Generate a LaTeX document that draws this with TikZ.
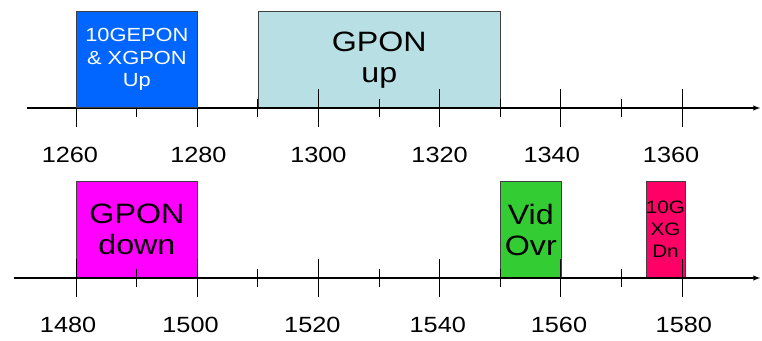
\documentclass[tikz,border=0pt]{standalone}
\usepackage{fontspec}
\setmainfont{Liberation Sans}[FakeStretch=1.15]
\usetikzlibrary{arrows}
\definecolor{upblue}{RGB}{0,102,255}
\definecolor{upteal}{RGB}{184,224,228}
\definecolor{dnmagenta}{RGB}{255,0,255}
\definecolor{vidgreen}{RGB}{51,204,51}
\definecolor{xgred}{RGB}{255,0,102}
\tikzset{
  band/.style={draw=black!75, line width=0.6pt, anchor=south west,
    minimum height=96pt, inner sep=0pt, align=center},
  bigtext/.style={font=\fontsize{28}{31}\selectfont},
  midtext/.style={font=\fontsize{19}{22.5}\selectfont},
  smalltext/.style={font=\fontsize{18}{22}\selectfont},
  axis/.style={line width=1.3pt, -latex},
  tickmark/.style={line width=0.7pt},
  wlabel/.style={font=\fontsize{22}{26}\selectfont}
}

\begin{document}
\begin{tikzpicture}[x=6.06pt, y=1pt]
    \useasboundingbox (-12.541,108) rectangle (113.2,-232);

    % upstream
    \node[band, fill=upteal, bigtext, minimum width=242.4pt] (gponup) at (30,0) {GPON\\up};
    \draw[axis] (-8.1,0) -- (112.9,0);
    \foreach \t in {0,20,...,100}
        \draw[tickmark] (\t,-19) -- (\t,19);
    \foreach \t in {10,30,...,90}
        \draw[tickmark] (\t,-9) -- (\t,9);
    \node[band, fill=upblue, text=white, midtext, minimum width=121.2pt] (xgup) at (0,0) {10GEPON\\\& XGPON\\Up};
    \foreach \t/\dx in {0/-1,20/0.2,40/0,60/0,80/-1.5,100/-1.8}
        \pgfmathtruncatemacro\wl{1260+\t}
        \node[wlabel] (up\wl) at (\t+\dx,-47) {\wl};

    % downstream
    \begin{scope}[yshift=-170pt]
        \node[band, fill=dnmagenta, bigtext, minimum width=121.2pt] (gpondn) at (0,0) {GPON\\down};
        \node[band, fill=vidgreen, bigtext, minimum width=60.6pt] (vidovr) at (70,0) {Vid\\Ovr};
        \node[band, fill=xgred, smalltext, minimum width=36.4pt] (xgdn) at (94,0) {10G\\XG\\Dn};
        \draw[axis] (-10.2,0) -- (112.9,0);
        \foreach \t in {0,20,...,100}
            \draw[tickmark] (\t,-19) -- (\t,19);
        \foreach \t in {10,30,...,90}
            \draw[tickmark] (\t,-9) -- (\t,9);
        \foreach \t/\dx in {0/-1.3,20/-1.1,40/-1,60/-0.3,80/-0.3,100/0.3}
            \pgfmathtruncatemacro\wl{1480+\t}
            \node[wlabel] (dn\wl) at (\t+\dx,-47) {\wl};
    \end{scope}
\end{tikzpicture}
\end{document}
